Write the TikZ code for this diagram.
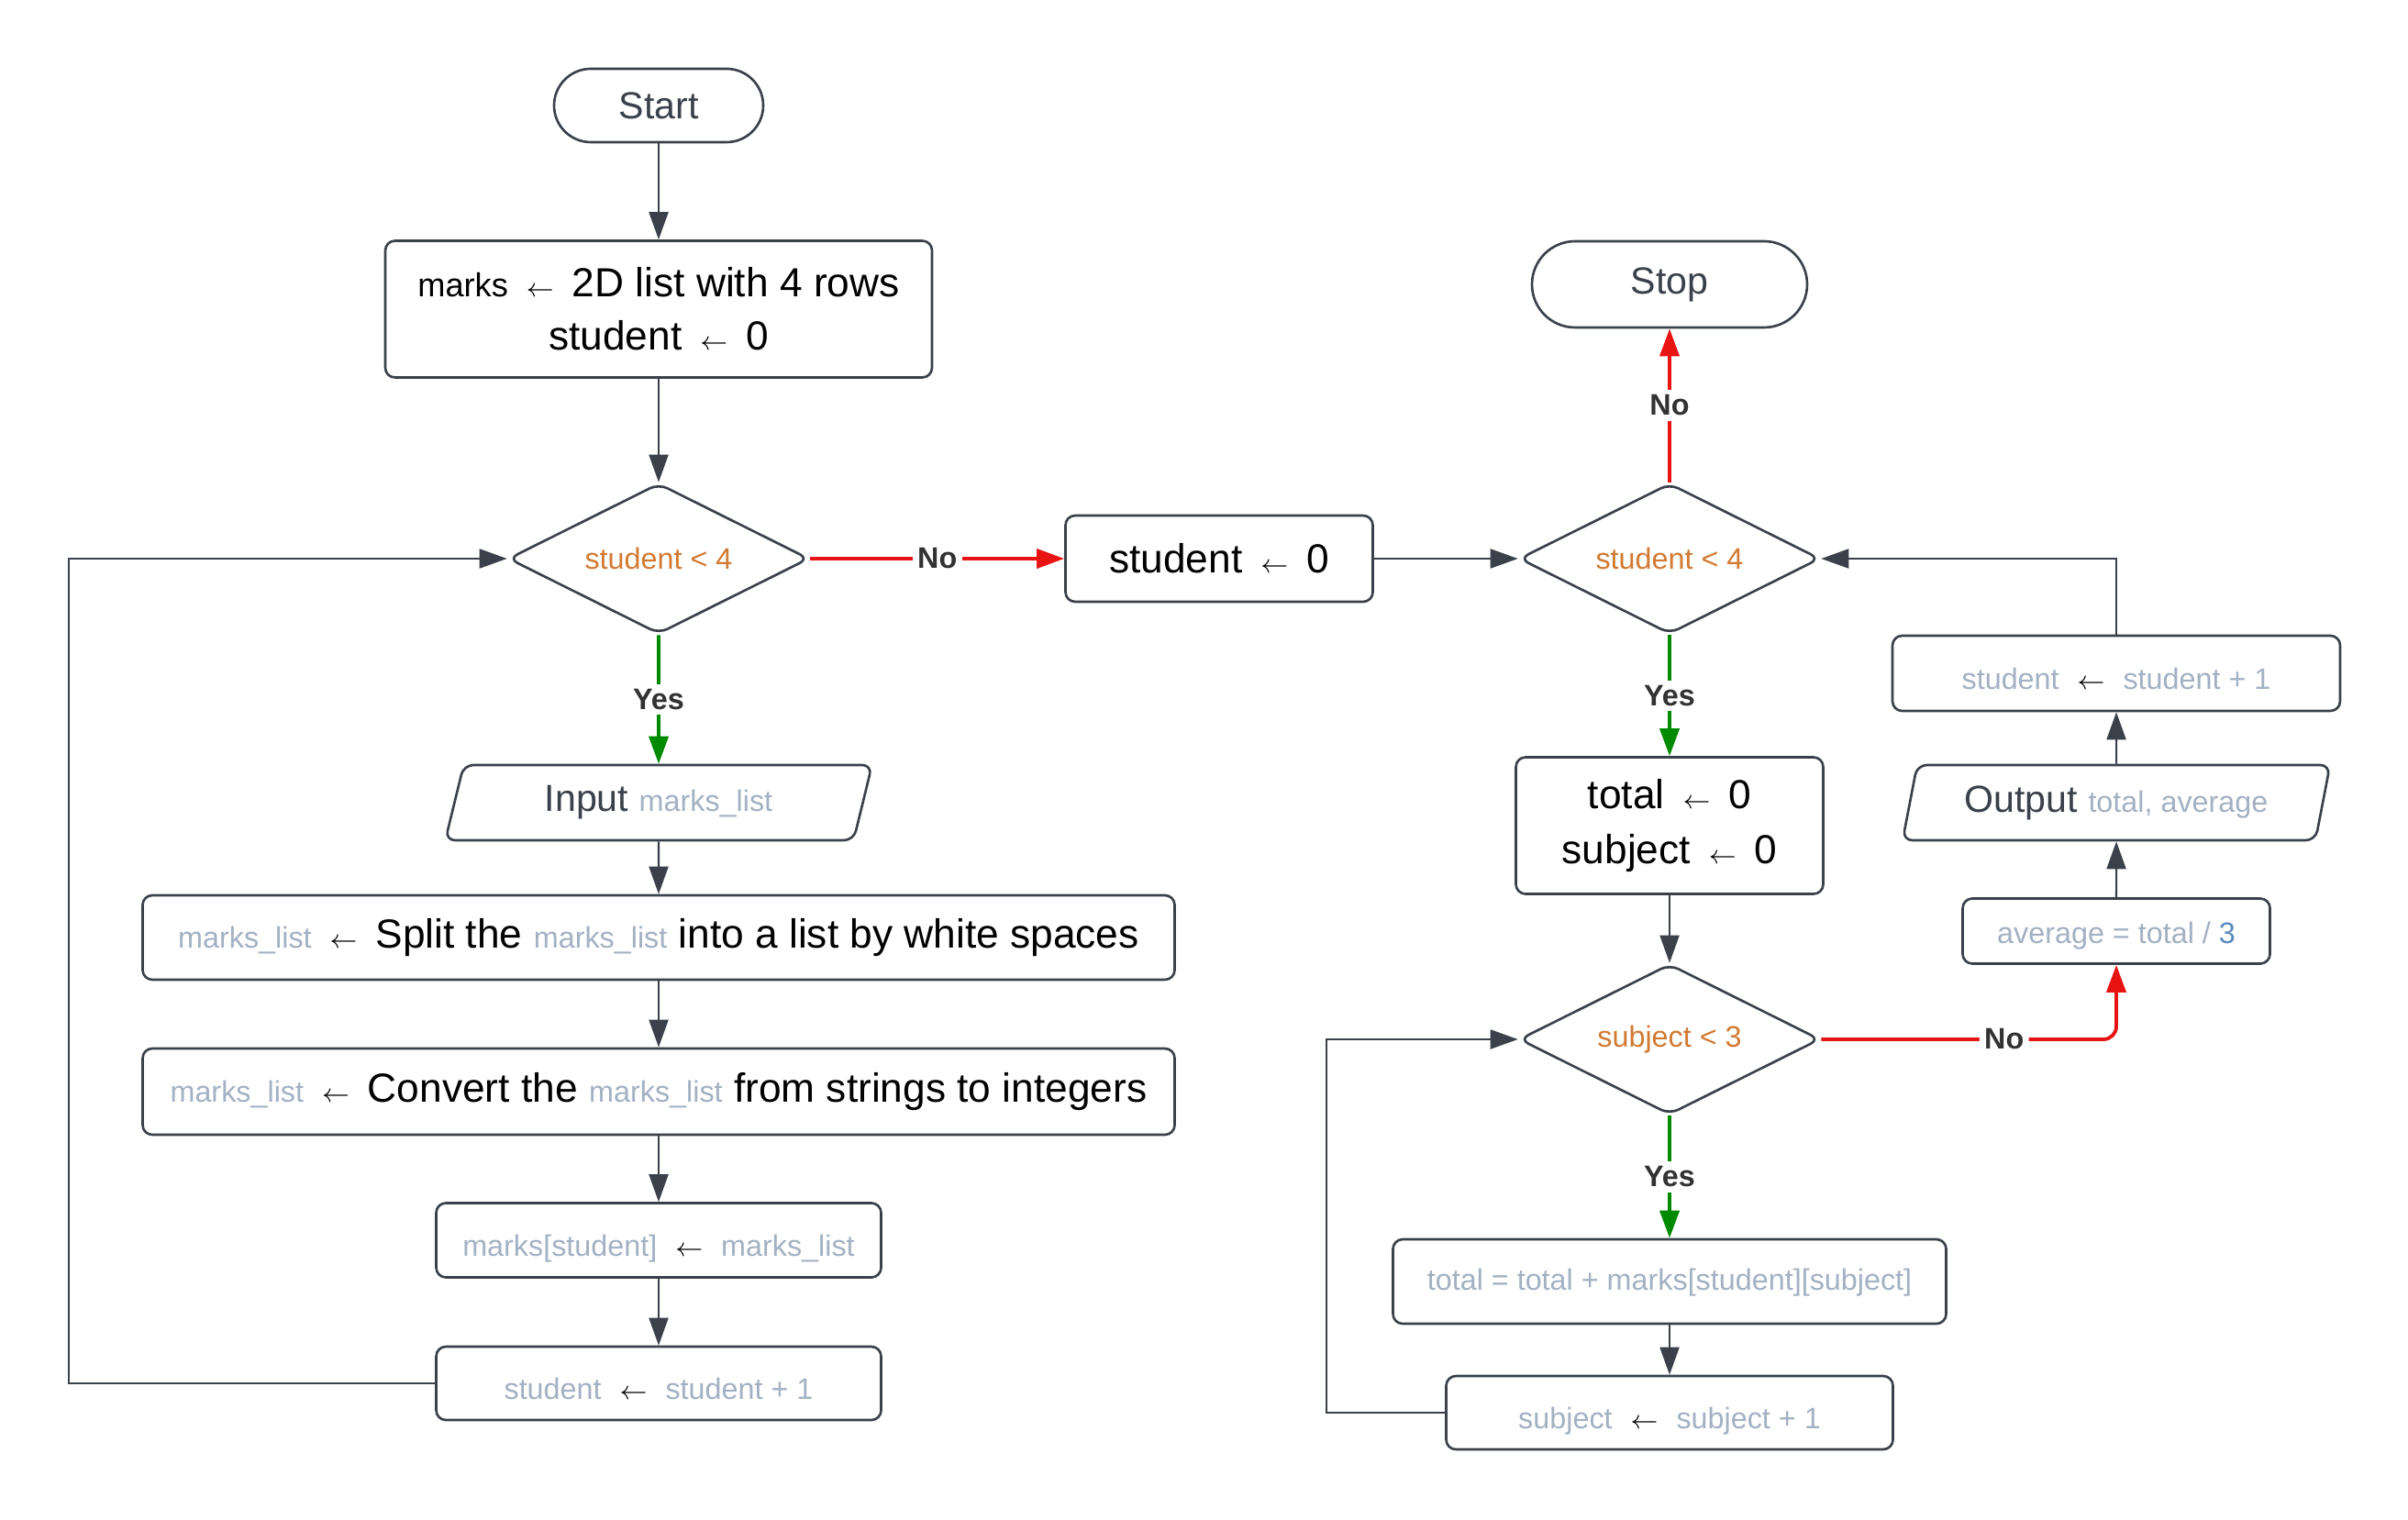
\documentclass[tikz,border=0pt]{standalone}
\usepackage{fontspec}
\setmainfont{Liberation Sans}
\usepackage{xcolor}
\definecolor{LineGray}  {RGB}{58,  65,  74}
\definecolor{VarGray}   {RGB}{163, 177, 194}
\definecolor{CondOrange}{RGB}{210, 122, 50}
\definecolor{NumBlue}   {RGB}{90,  140, 190}
\definecolor{YesGreen}  {RGB}{0,   138, 0}
\definecolor{NoRed}     {RGB}{232, 20,  20}
\definecolor{LabelGray} {RGB}{50,  50,  50}
\usetikzlibrary{
  shapes.geometric,
  arrows.meta
}
\newcommand{\asgn}{\hspace{0.2cm}{\fontsize{8}{8}\selectfont\color{black}$\leftarrow$}\hspace{0.2cm}}
\newcommand{\vname}[1]{{\fontsize{9.2}{11}\selectfont\color{VarGray}#1}}

\begin{document}
\begin{tikzpicture}[
  font=\fontsize{12.6}{16.5}\selectfont,
  proc/.style={
    draw=LineGray, fill=white,
    rounded corners=3pt,
    line width=0.75pt,
    align=center, inner sep=2pt
  },
  term/.style={
    draw=LineGray, fill=white,
    line width=0.75pt,
    text=LineGray,
    font=\fontsize{11.7}{14}\selectfont
  },
  io/.style={
    trapezium,
    trapezium left angle=78,
    trapezium right angle=102,
    trapezium stretches=true,
    draw=LineGray, fill=white,
    rounded corners=3pt,
    line width=0.75pt,
    text=LineGray,
    font=\fontsize{11.7}{14}\selectfont,
    minimum width=4.66cm,
    minimum height=0.82cm
  },
  decision/.style={
    diamond, aspect=2,
    draw=LineGray, fill=white,
    rounded corners=3pt,
    line width=0.75pt,
    inner sep=0pt,
    minimum width=3.28cm,
    minimum height=1.64cm,
    text=CondOrange,
    font=\fontsize{9.2}{11}\selectfont
  },
  varbox/.style={
    proc,
    text=VarGray,
    text height=0.42cm, text depth=0.07cm,
    font=\fontsize{9.2}{11}\selectfont
  },
  flow/.style={
    -{Triangle[length=0.3cm, width=0.21cm]},
    draw=LineGray, line width=0.6pt},
  yesflow/.style={
    flow, draw=YesGreen, line width=1.1pt},
  noflow/.style={
    flow, draw=NoRed, line width=1.1pt},
  lbl/.style={
    fill=white, text=LabelGray,
    inner sep=1.5pt,
    font=\fontsize{9.2}{11}\selectfont\bfseries}
]

\useasboundingbox (0,0) rectangle (26.25,16.56);

\node[term, rounded corners=0.4cm,
  minimum width=2.28cm,
  minimum height=0.80cm]
  (start) at (7.18,15.41) {Start};
\node[proc, minimum width=5.96cm,
  minimum height=1.49cm]
  (init) at (7.18,13.19)
  {{\fontsize{10.3}{12}\selectfont marks}\asgn 2D list with 4 rows\\
  student\asgn 0};
\node[decision] (chkA) at (7.18,10.47) {student < 4};
\node[proc, minimum width=3.35cm,
  minimum height=0.94cm]
  (reset) at (13.29,10.47) {student\asgn 0};
\node[io] (input) at (7.18,7.81)
  {Input \vname{marks\_list}};
\node[proc, minimum width=11.25cm,
  minimum height=0.92cm]
  (split) at (7.18,6.34)
  {\vname{marks\_list}\asgn Split the \vname{marks\_list}
  into a list by white spaces};
\node[proc, minimum width=11.25cm,
  minimum height=0.94cm]
  (convert) at (7.18,4.66)
  {\vname{marks\_list}\asgn Convert the \vname{marks\_list}
  from strings to integers};
\node[varbox, minimum width=4.85cm,
  minimum height=0.81cm]
  (store) at (7.18,3.04)
  {marks[student]\asgn marks\_list};
\node[varbox, minimum width=4.85cm,
  minimum height=0.80cm]
  (incL) at (7.18,1.48)
  {student\asgn student + 1};

\node[term, rounded corners=0.47cm,
  minimum width=3.00cm,
  minimum height=0.94cm]
  (stop) at (18.20,13.46) {Stop};
\node[decision] (chkB) at (18.20,10.47) {student < 4};
\node[proc, minimum width=3.35cm,
  minimum height=1.49cm,
  font=\fontsize{12.6}{17}\selectfont]
  (init2) at (18.20,7.56)
  {total\asgn 0\\subject\asgn 0};
\node[decision] (chkC) at (18.20,5.23) {subject < 3};
\node[varbox, text height=0.26cm,
  minimum width=6.03cm,
  minimum height=0.92cm]
  (addup) at (18.20,2.59)
  {total = total + marks[student][subject]};
\node[varbox, minimum width=4.87cm,
  minimum height=0.80cm]
  (incS) at (18.20,1.16)
  {subject\asgn subject + 1};

\node[varbox, text height=0.34cm,
  minimum width=3.35cm,
  minimum height=0.71cm]
  (avg) at (23.07,6.41)
  {average = total / \textcolor{NumBlue}{3}};
\node[io] (output) at (23.07,7.81)
  {Output \vname{total, average}};
\node[varbox, minimum width=4.88cm,
  minimum height=0.82cm]
  (incR) at (23.07,9.22)
  {student\asgn student + 1};

\coordinate (loopL) at (0.75,1.48);
\coordinate (loopS) at (14.46,1.16);

\draw[flow] (start) -- (init);
\draw[flow] (init) -- (chkA);
\draw[noflow] (chkA) -- node[lbl] {No} (reset);
\draw[yesflow] (chkA) -- node[lbl] {Yes} (input);
\draw[flow] (input) -- (split);
\draw[flow] (split) -- (convert);
\draw[flow] (convert) -- (store);
\draw[flow] (store) -- (incL);
\draw[flow] (incL.west) -- (loopL) |- (chkA.west);

\draw[flow] (reset) -- (chkB);
\draw[noflow] (chkB) -- node[lbl] {No} (stop);
\draw[yesflow] (chkB) -- node[lbl] {Yes} (init2);
\draw[flow] (init2) -- (chkC);
\draw[yesflow] (chkC) -- node[lbl] {Yes} (addup);
\draw[flow] (addup) -- (incS);
\draw[flow] (incS.west) -- (loopS) |- (chkC.west);
\draw[noflow, rounded corners=4pt] (chkC.east)
  -| node[lbl, pos=0.31] {No} (avg.south);
\draw[flow] (avg) -- (output);
\draw[flow] (output) -- (incR);
\draw[flow] (incR.north) |- (chkB.east);

\end{tikzpicture}
\end{document}
